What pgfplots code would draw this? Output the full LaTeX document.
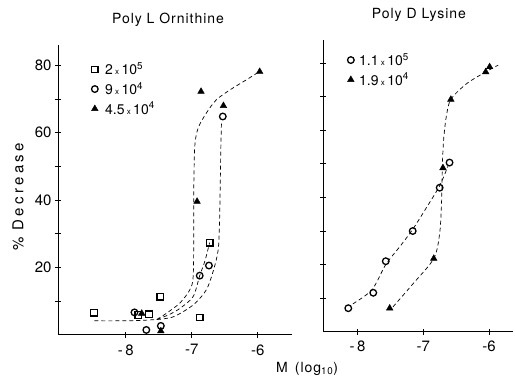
\documentclass[border=0pt]{standalone}
\usepackage{pgfplots}
\pgfplotsset{compat=1.18}
\usepackage{fontspec}
\setmainfont{TeX Gyre Heros}
\newfontfamily\spaced[LetterSpace=22]{TeX Gyre Heros}
\newfontfamily\spacedb[LetterSpace=7]{TeX Gyre Heros}
\newcommand{\xx}{\,{\fontsize{8}{9}\selectfont x}\,}
\begin{document}
\begin{tikzpicture}[x=1pt,y=1pt]
\useasboundingbox (0,0) rectangle (515,383);
\pgfplotsset{
  common/.style={
    scale only axis,
    axis x line*=bottom, axis y line*=left,
    axis line style={-, line width=1pt},
    tick align=center,
    major tick length=6pt,
    tick style={line width=0.9pt, black},
    xtick={-8,-7,-6},
    xticklabels={-\,8,-7,-6},
    ymin=0,
    ytick={10,20,30,40,50,60,70,80},
    /pgf/number format/assume math mode=true,
    tick label style={font=\fontsize{15}{17}\selectfont},
    xticklabel style={yshift=-3pt},
    legend style={draw=none, fill=none, font=\fontsize{14}{16}\selectfont, row sep=2pt},
    legend cell align=left,
  },
  crv/.style={black, line width=0.7pt, dash pattern=on 4pt off 3pt, smooth, tension=0.5, forget plot},
  sq/.style={only marks, mark=square, mark size=3.3pt, mark options={line width=1.3pt, black}},
  ci/.style={only marks, mark=o, mark size=3.3pt, mark options={line width=1.3pt, black}},
  tr/.style={only marks, mark=triangle*, mark size=3.8pt, mark options={black, fill=black}},
}
\begin{axis}[common, at={(58pt,48pt)}, anchor=south west,
  width=234pt, height=290pt,
  xmin=-9.03, xmax=-5.48, ymax=86,
  yticklabels={,20,,40,,60,,80},
  legend style={at={(axis cs:-8.57,82)}, anchor=north west},
]
\addplot[crv] coordinates {(-8.48,4.2) (-8.1,4.2) (-7.8,4.3) (-7.53,4.6)};
\addplot[crv] coordinates {(-7.53,4.6) (-7.38,6.5) (-7.18,9.5) (-7.03,13.4) (-6.98,17.2) (-6.97,30) (-6.97,43) (-6.955,55.9) (-6.905,61.3) (-6.78,65.8) (-6.63,69.7) (-6.42,72.7) (-6.17,75.7) (-6.0,77.8)};
\addplot[crv] coordinates {(-7.53,4.6) (-7.35,6) (-7.18,7.9) (-6.98,11.4) (-6.88,17.6) (-6.8,22) (-6.73,27.4)};
\addplot[crv] coordinates {(-7.53,4.6) (-7.28,5.4) (-6.98,8.9) (-6.78,13.4) (-6.67,19.3) (-6.60,25.2) (-6.58,33.1) (-6.57,43) (-6.56,55) (-6.55,63)};
\addplot[sq] coordinates {(-8.485,6.6) (-7.81,5.9) (-7.65,6.1) (-7.48,11.4) (-6.73,27.4) (-6.88,5.2)};
\addlegendentry{\hspace{5pt}2\xx10\textsuperscript{5}}
\addplot[ci] coordinates {(-7.87,6.7) (-7.69,1.5) (-7.47,2.7) (-6.88,17.6) (-6.74,20.6) (-6.53,64.8)};
\addlegendentry{\hspace{5pt}9\xx10\textsuperscript{4}}
\addplot[tr] coordinates {(-7.76,6.4) (-7.47,1.2) (-6.92,39.6) (-6.86,72.2) (-6.52,68) (-5.97,78.1)};
\addlegendentry{\hspace{5pt}4.5\xx10\textsuperscript{4}}
\end{axis}
\begin{axis}[common, at={(323.3pt,51.3pt)}, anchor=south west,
  width=190pt, height=292pt,
  xmin=-8.52, xmax=-5.63, ymax=87,
  yticklabels={},
  legend style={at={(axis cs:-8.2,84.2)}, anchor=north west},
]
\addplot[crv] coordinates {(-8.07,8.3) (-7.78,12.5) (-7.57,20) (-7.35,25.5) (-7.16,30.5) (-6.95,37) (-6.75,43.5) (-6.62,49.5)};
\addplot[crv] coordinates {(-7.46,7.4) (-7.15,14.4) (-6.84,21.8) (-6.75,29.3) (-6.72,39.2) (-6.71,49.1) (-6.69,57.1) (-6.65,64) (-6.58,69.2) (-6.34,73.9) (-6.05,77.4) (-5.86,79.4)};
\addplot[ci] coordinates {(-8.14,7.0) (-7.76,11.6) (-7.57,21.0) (-7.16,30.0) (-6.75,42.9) (-6.60,50.4)};
\addlegendentry{\hspace{3pt}1.1\xx10\textsuperscript{5}}
\addplot[tr] coordinates {(-7.51,7.0) (-6.84,21.8) (-6.70,48.8) (-6.58,69.2) (-6.05,77.4) (-5.99,78.9)};
\addlegendentry{\hspace{3pt}1.9\xx10\textsuperscript{4}}
\end{axis}
\node[font=\fontsize{14}{16}\spacedb] at (168,363) {Poly L Ornithine};
\node[font=\fontsize{14}{16}\spacedb] at (419,368) {Poly D Lysine};
\node[font=\fontsize{15}{17}\spaced, rotate=90] at (18,186) {\% Decrease};
\node[font=\fontsize{14}{16}\spacedb] at (307,14) {M\, (log\textsubscript{10})};
\end{tikzpicture}
\end{document}
